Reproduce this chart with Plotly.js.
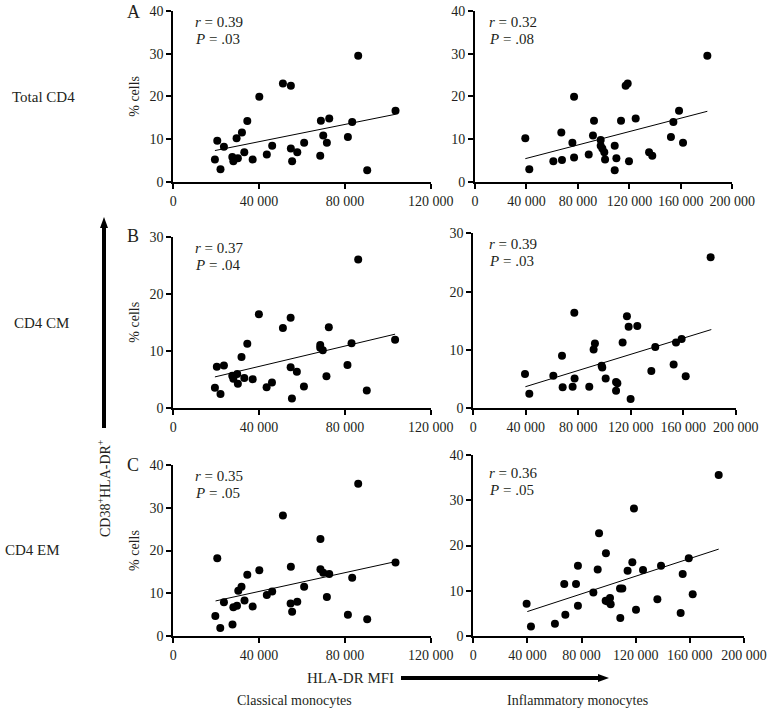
<!DOCTYPE html>
<html>
<head>
<meta charset="utf-8">
<script src="https://cdn.plot.ly/plotly-3.0.1.min.js"></script>
<style>html,body{margin:0;padding:0;background:#fff;}#chart{width:768px;height:708px;}</style>
</head>
<body>
<div id="chart"></div>
<script>
// ---- data ----
const rowLabels = ["Total CD4", "CD4 CM", "CD4 EM"];
const panelLetters = ["A", "B", "C"];
const colLabels = ["Classical monocytes", "Inflammatory monocytes"];
const statsR = ["0.39", "0.32", "0.37", "0.39", "0.35", "0.36"];
const statsP = [".03", ".08", ".04", ".03", ".05", ".05"];

const classicalTicks = [0, 40000, 80000, 120000];
const classicalTickText = ["0", "40 000", "80 000", "120 000"];
const inflamTicks = [0, 40000, 80000, 120000, 160000, 200000];
const inflamTickText = ["0", "40 000", "80 000", "120 000", "160 000", "200 000"];
const yTicks40 = [0, 10, 20, 30, 40];
const yTicks30 = [0, 10, 20, 30];

// A: Total CD4
const aLeftX = [19400,20500,22000,23600,27500,28000,30100,29500,32000,33100,34500,37000,40100,43600,46100,51100,54800,54800,55400,57800,61000,68500,68800,69900,71600,72700,81400,83400,86200,90400,103600];
const aLeftY = [5.2,9.6,2.9,8.2,5.8,4.8,5.5,10.2,11.5,6.9,14.2,5.2,19.9,6.4,8.4,23.0,22.5,7.8,4.8,6.9,9.1,6.1,14.3,10.8,9.1,14.8,10.5,14.0,29.5,2.7,16.6];
const aRightX = [39100,42200,60900,67600,67100,75700,77000,77000,88400,91700,92500,97700,97700,99000,100500,101100,108600,108600,109900,113500,117100,118700,119700,124900,135300,137800,152300,154200,158600,161700,180600];
const aRightY = [10.2,2.9,4.8,5.1,11.5,9.1,5.7,19.9,6.4,10.8,14.3,9.8,8.4,7.8,6.9,5.2,8.4,2.7,5.5,14.3,22.5,23.0,4.8,14.8,6.9,6.1,10.5,14.0,16.6,9.1,29.5];

// B: CD4 CM
const bLeftX = [19400,20300,22000,23600,27500,28000,29800,30100,31800,33100,34500,37000,39900,43500,46000,51100,54700,54700,55300,57600,60900,68500,68500,69700,71400,72500,81200,83100,86200,90200,103400];
const bLeftY = [3.5,7.2,2.4,7.4,5.6,5.1,5.9,4.2,8.9,5.2,11.2,5.0,16.4,3.6,4.4,14.0,15.8,7.1,1.6,6.3,3.7,11.0,10.5,10.1,5.5,14.1,7.5,11.3,26.0,3.0,11.9];
const bRightX = [39400,42700,61000,67600,68100,75700,77000,77200,88400,91700,92700,97800,98300,100900,108800,108800,109800,113800,117100,118400,119900,125000,135700,138700,152700,154500,158800,161900,180900];
const bRightY = [5.9,2.5,5.6,9.0,3.6,3.7,16.4,5.1,3.7,10.1,11.1,7.3,7.0,5.1,4.5,3.0,4.3,11.3,15.8,14.0,1.6,14.1,6.4,10.5,7.5,11.3,11.9,5.5,25.9];

// C: CD4 EM
const cLeftX = [19600,20500,21900,23600,27600,28000,29700,30300,31800,33200,34500,37000,40100,43600,46100,51100,54800,54700,55400,57800,61000,68600,68600,69900,71600,72700,81400,83400,86200,90400,103600];
const cLeftY = [4.7,18.2,1.9,7.9,2.7,6.7,7.1,10.6,11.5,8.3,14.3,6.9,15.4,9.6,10.4,28.2,16.2,7.6,5.7,8.0,11.5,22.7,15.6,14.8,9.1,14.5,5.0,13.6,35.6,3.9,17.2];
const cRightX = [39400,42600,60300,67200,68000,75900,77300,77300,88700,91900,92900,98000,97800,99300,101000,101500,108400,110100,108600,114000,117500,118700,120200,125400,136000,138700,153200,154700,159200,162100,181300];
const cRightY = [7.1,2.1,2.7,11.5,4.7,11.5,15.5,6.7,9.6,14.7,22.7,18.3,7.8,7.6,8.4,7.0,10.5,10.5,4.0,14.4,16.3,28.2,5.8,14.6,8.1,15.5,5.1,13.7,17.2,9.2,35.6];

// regression line end points
const fitAL = {x: [19400, 103600], y: [7.3, 15.8]};
const fitAR = {x: [39100, 180600], y: [5.4, 16.5]};
const fitBL = {x: [19400, 103400], y: [5.4, 12.9]};
const fitBR = {x: [39700, 181400], y: [3.7, 13.5]};
const fitCL = {x: [19700, 103600], y: [8.2, 17.4]};
const fitCR = {x: [39900, 181300], y: [5.4, 19.2]};

// ---- layout ----
const W = 768, H = 708;
const px = v => v / W;
const py = v => 1 - v / H;
const FONT = "Liberation Serif, Times New Roman, serif";
const TXT = "#231f20";

const panels = [
  {x: aLeftX, y: aLeftY, fit: fitAL, xd: [173.3, 430.7], yd: [11, 181.7], ymax: 40, yt: yTicks40, left: true},
  {x: aRightX, y: aRightY, fit: fitAR, xd: [475, 732.3], yd: [11, 181.7], ymax: 40, yt: yTicks40, left: false},
  {x: bLeftX, y: bLeftY, fit: fitBL, xd: [173.3, 430.7], yd: [236.7, 407.7], ymax: 30, yt: yTicks30, left: true},
  {x: bRightX, y: bRightY, fit: fitBR, xd: [473.3, 735.7], yd: [233.3, 408.3], ymax: 30, yt: yTicks30, left: false},
  {x: cLeftX, y: cLeftY, fit: fitCL, xd: [173.3, 430.7], yd: [465, 636], ymax: 40, yt: yTicks40, left: true},
  {x: cRightX, y: cRightY, fit: fitCR, xd: [473.3, 744], yd: [455, 636], ymax: 40, yt: yTicks40, left: false}
];

const data = [];
const layout = {
  width: W, height: H,
  margin: {l: 0, r: 0, t: 0, b: 0},
  paper_bgcolor: "#fff", plot_bgcolor: "#fff",
  showlegend: false,
  font: {family: FONT, color: TXT, size: 14},
  annotations: [],
  shapes: []
};

const axCommon = {
  showline: true, linecolor: "#000", linewidth: 2,
  ticks: "outside", ticklen: 5, tickwidth: 2, tickcolor: "#000",
  showgrid: false, zeroline: false, fixedrange: true,
  tickfont: {family: FONT, size: 14, color: TXT},
  tickmode: "array"
};

panels.forEach((p, i) => {
  const n = i + 1;
  const xa = "x" + (n === 1 ? "" : n), ya = "y" + (n === 1 ? "" : n);
  const xk = "xaxis" + (n === 1 ? "" : n), yk = "yaxis" + (n === 1 ? "" : n);
  layout[xk] = Object.assign({}, axCommon, {
    domain: [px(p.xd[0]), px(p.xd[1])],
    range: [0, p.left ? 120000 : 200000],
    tickvals: p.left ? classicalTicks : inflamTicks,
    ticktext: p.left ? classicalTickText : inflamTickText,
    anchor: ya
  });
  layout[yk] = Object.assign({}, axCommon, {
    domain: [py(p.yd[1]), py(p.yd[0])],
    range: [0, p.ymax],
    tickvals: p.yt,
    ticktext: p.yt.map(String),
    anchor: xa
  });
  if (p.left) {
    layout[yk].title = {text: "% cells", font: {family: FONT, size: 14, color: TXT}, standoff: 7};
  }
  data.push({
    type: "scatter", mode: "lines", x: p.fit.x, y: p.fit.y,
    xaxis: xa, yaxis: ya, line: {color: "#000", width: 1}, hoverinfo: "skip"
  });
  data.push({
    type: "scatter", mode: "markers", x: p.x, y: p.y,
    xaxis: xa, yaxis: ya, cliponaxis: false,
    marker: {color: "#000", size: 8, line: {width: 0}}
  });
  // stats text
  const sx = p.left ? 193 : 487;
  const sy = p.yd[0] + 11 + (i === 5 ? 7 : 0);
  layout.annotations.push({
    xref: "paper", yref: "paper", x: px(sx), y: py(sy), xanchor: "left", yanchor: "middle",
    text: "<i>r</i> = " + statsR[i], showarrow: false, font: {family: FONT, size: 15, color: TXT}
  });
  layout.annotations.push({
    xref: "paper", yref: "paper", x: px(sx), y: py(sy + 17), xanchor: "left", yanchor: "middle",
    text: "<i>P</i> = " + statsP[i], showarrow: false, font: {family: FONT, size: 15, color: TXT}
  });
});

// panel letters and row labels
const letterY = [12, 236, 465];
const rowY = [97, 323, 550];
const rowX = [10, 12, 3];
panelLetters.forEach((L, i) => {
  layout.annotations.push({
    xref: "paper", yref: "paper", x: px(133), y: py(letterY[i]), xanchor: "center", yanchor: "middle",
    text: L, showarrow: false, font: {family: FONT, size: 18, color: TXT}
  });
  layout.annotations.push({
    xref: "paper", yref: "paper", x: px(rowX[i]), y: py(rowY[i]), xanchor: "left", yanchor: "middle",
    text: rowLabels[i], showarrow: false, font: {family: FONT, size: 15, color: TXT}
  });
});

// vertical arrow (shape) + label
layout.shapes.push({
  type: "line", xref: "paper", yref: "paper",
  x0: px(104), x1: px(104), y0: py(428), y1: py(226),
  line: {color: "#000", width: 4}
});
layout.shapes.push({
  type: "path", xref: "paper", yref: "paper",
  path: "M " + px(100) + " " + py(228) + " L " + px(104) + " " + py(217) + " L " + px(108) + " " + py(228) + " Z",
  fillcolor: "#000", line: {color: "#000", width: 0}
});
layout.annotations.push({
  xref: "paper", yref: "paper", x: px(104), y: py(488), xanchor: "center", yanchor: "middle",
  text: "CD38<sup>+</sup>HLA-DR<sup>+</sup>", textangle: -90, showarrow: false,
  font: {family: FONT, size: 14, color: TXT}
});

// horizontal arrow (shape) + label
layout.annotations.push({
  xref: "paper", yref: "paper", x: px(396), y: py(678), xanchor: "right", yanchor: "middle",
  text: "HLA-DR MFI", showarrow: false, font: {family: FONT, size: 15, color: TXT}
});
layout.shapes.push({
  type: "line", xref: "paper", yref: "paper",
  x0: px(401), x1: px(600), y0: py(678), y1: py(678),
  line: {color: "#000", width: 4}
});
layout.shapes.push({
  type: "path", xref: "paper", yref: "paper",
  path: "M " + px(598) + " " + py(674) + " L " + px(609) + " " + py(678) + " L " + px(598) + " " + py(682) + " Z",
  fillcolor: "#000", line: {color: "#000", width: 0}
});

// column labels
const colX = [294, 577];
colLabels.forEach((c, i) => {
  layout.annotations.push({
    xref: "paper", yref: "paper", x: px(colX[i]), y: py(700), xanchor: "center", yanchor: "middle",
    text: c, showarrow: false, font: {family: FONT, size: 14, color: TXT}
  });
});

Plotly.newPlot("chart", data, layout, {displayModeBar: false, staticPlot: true});
</script>
</body>
</html>
